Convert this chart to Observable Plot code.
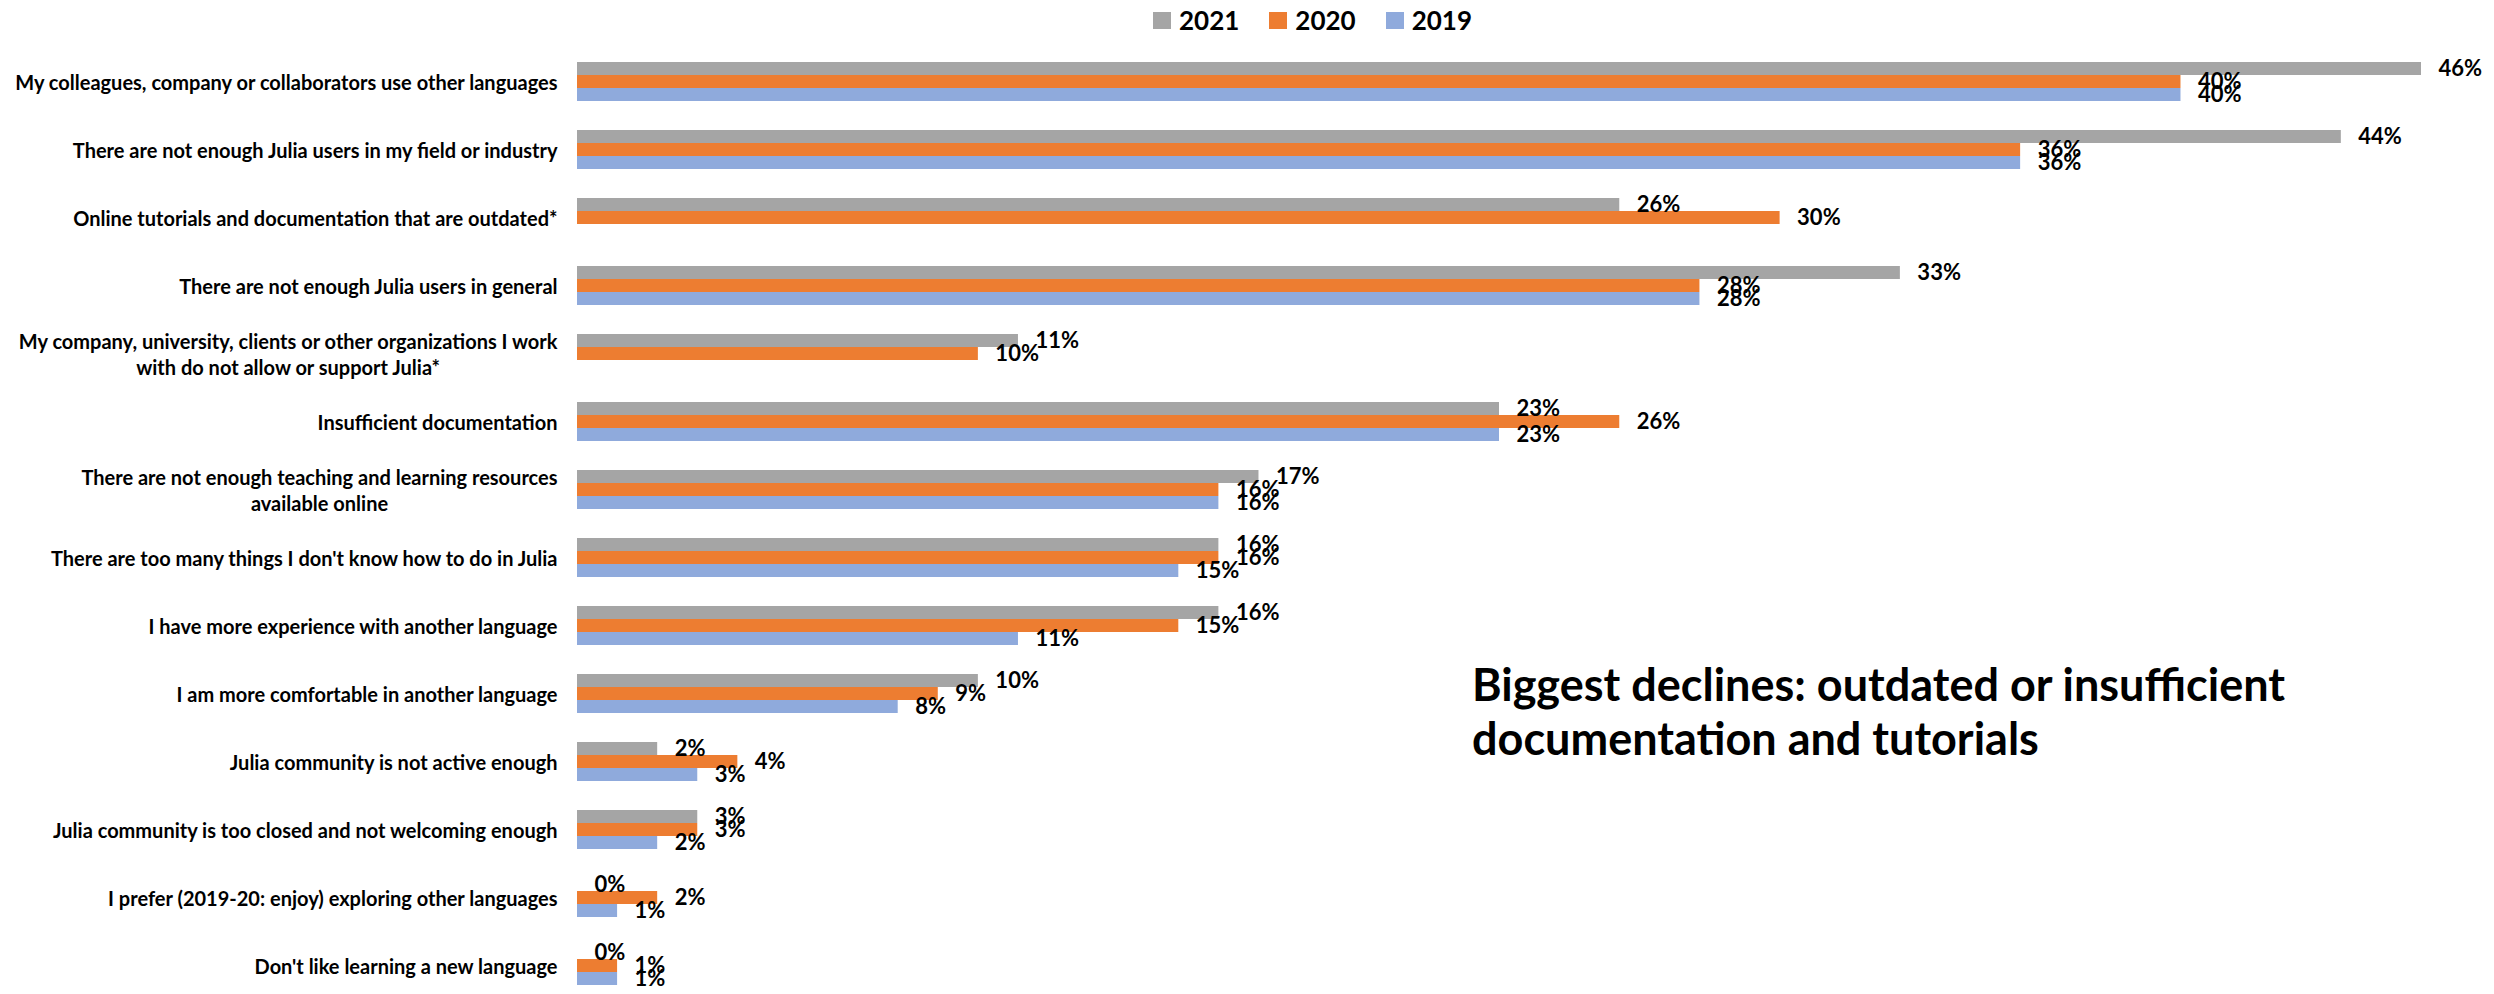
<!DOCTYPE html>
<html>
<head>
<meta charset="utf-8">
<script src="https://cdn.jsdelivr.net/npm/d3@7"></script>
<script src="https://cdn.jsdelivr.net/npm/@observablehq/plot@0.6"></script>
<style>
  html, body { margin: 0; padding: 0; background: #fff; }
  body { width: 2494px; height: 994px; position: relative; overflow: hidden; font-family: Lato, "Open Sans", "DejaVu Sans", sans-serif; }
  #legend { position: absolute; left: 1153px; top: 0; height: 40px; display: flex; align-items: center; gap: 30px; }
  .item { display: flex; align-items: center; gap: 8px; font-weight: 700; font-size: 26px; color: #000; }
  .swatch { width: 18px; height: 17px; }
  #chart { position: absolute; left: 0; top: 40px; }
  #note { position: absolute; left: 1472px; top: 657px; font-weight: 700; font-size: 45px; line-height: 54px; color: #000; white-space: nowrap; }
</style>
</head>
<body>
<div id="legend"></div>
<div id="chart"></div>
<div id="note">Biggest declines: outdated or insufficient<br>documentation and tutorials</div>
<script>
const categories = [
  "My colleagues, company or collaborators use other languages",
  "There are not enough Julia users in my field or industry",
  "Online tutorials and documentation that are outdated*",
  "There are not enough Julia users in general",
  "My company, university, clients or other organizations I work with do not allow or support Julia*",
  "Insufficient documentation",
  "There are not enough teaching and learning resources available online",
  "There are too many things I don't know how to do in Julia",
  "I have more experience with another language",
  "I am more comfortable in another language",
  "Julia community is not active enough",
  "Julia community is too closed and not welcoming enough",
  "I prefer (2019-20: enjoy) exploring other languages",
  "Don't like learning a new language"
];
const tickLabels = [
  "My colleagues, company or collaborators use other languages",
  "There are not enough Julia users in my field or industry",
  "Online tutorials and documentation that are outdated*",
  "There are not enough Julia users in general",
  "My company, university, clients or other organizations I work\nwith do not allow or support Julia*",
  "Insufficient documentation",
  "There are not enough teaching and learning resources\navailable online",
  "There are too many things I don't know how to do in Julia",
  "I have more experience with another language",
  "I am more comfortable in another language",
  "Julia community is not active enough",
  "Julia community is too closed and not welcoming enough",
  "I prefer (2019-20: enjoy) exploring other languages",
  "Don't like learning a new language"
];
const years = ["2021", "2020", "2019"];
const colors = ["#A5A5A5", "#ED7D31", "#8FAADC"];
const values2021 = [46, 44, 26, 33, 11, 23, 17, 16, 16, 10, 2, 3, 0, 0];
const values2020 = [40, 36, 30, 28, 10, 26, 16, 16, 15, 9, 4, 3, 2, 1];
const values2019 = [40, 36, null, 28, null, 23, 16, 15, 11, 8, 3, 2, 1, 1];

const series = {"2021": values2021, "2020": values2020, "2019": values2019};
const rows = [];
categories.forEach((c, i) => {
  years.forEach(y => {
    const v = series[y][i];
    if (v !== null && v !== undefined) rows.push({cat: c, year: y, value: v});
  });
});

// legend
const legend = document.getElementById("legend");
years.forEach((y, i) => {
  const it = document.createElement("div");
  it.className = "item";
  const sw = document.createElement("div");
  sw.className = "swatch";
  sw.style.background = colors[i];
  const tx = document.createElement("span");
  tx.textContent = y;
  it.appendChild(sw); it.appendChild(tx);
  legend.appendChild(it);
});

const font = 'Lato, "Open Sans", "DejaVu Sans", sans-serif';
const plot = Plot.plot({
  width: 2494,
  height: 954,
  marginLeft: 577,
  marginRight: 73,
  marginTop: 0,
  marginBottom: 0,
  facet: {margin: 0},
  style: {fontFamily: font, background: "#fff", overflow: "visible"},
  x: {domain: [0, 46], axis: null},
  fy: {domain: categories, range: [2.2, 963.9], padding: 0, label: null},
  y: {domain: years, paddingInner: 0, paddingOuter: 1, axis: null},
  color: {domain: years, range: colors},
  marks: [
    Plot.barX(rows, {x: "value", y: "year", fy: "cat", fill: "year"}),
    Plot.text(rows, {x: "value", y: "year", fy: "cat", text: d => d.value + "%", dx: 17, textAnchor: "start",
      fontSize: 22, fontWeight: 700, fill: "#000"}),
    Plot.axisFy({anchor: "left", tickSize: 0, tickPadding: 20, label: null, fontSize: 20, fontWeight: 700,
      fill: "#000", lineHeight: 1.3,
      tickFormat: d => tickLabels[categories.indexOf(d)]})
  ]
});
document.getElementById("chart").appendChild(plot);

// center multi-line labels as a block (right-aligned block, centered lines)
plot.querySelectorAll('g[aria-label="fy-axis tick label"] text').forEach(t => {
  const spans = t.querySelectorAll("tspan");
  if (spans.length > 1) {
    let w = 0;
    spans.forEach(s => { w = Math.max(w, s.getComputedTextLength()); });
    t.setAttribute("text-anchor", "middle");
    spans.forEach(s => s.setAttribute("x", -w / 2));
  }
});
</script>
</body>
</html>
